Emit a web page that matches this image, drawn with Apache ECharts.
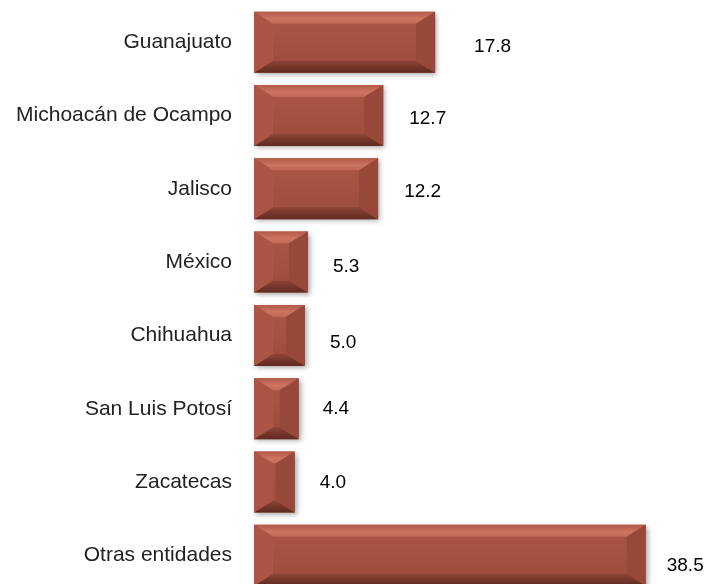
<!DOCTYPE html>
<html>
<head>
<meta charset="utf-8">
<script src="https://cdn.jsdelivr.net/npm/echarts@6/dist/echarts.min.js"></script>
<style>
  html, body { margin: 0; padding: 0; background: #fff; overflow: hidden; }
  #chart { width: 709px; height: 592px; }
</style>
</head>
<body>
<div id="chart"></div>
<script>
const categories = ["Guanajuato", "Michoacán de Ocampo", "Jalisco", "México", "Chihuahua", "San Luis Potosí", "Zacatecas", "Otras entidades"];
const values = [17.8, 12.7, 12.2, 5.3, 5.0, 4.4, 4.0, 38.5];

// small nudges for the value labels, as in the picture
const labelShift = [[14, 5], [1, 3], [1, 3], [0, 5], [0, 7], [-1, 0], [0, 1], [-4, 10]];

const chart = echarts.init(document.getElementById('chart'));

function renderBar(params, api) {
    const idx = api.value(1);
    const val = api.value(0);
    const start = api.coord([0, idx]);
    const end = api.coord([val, idx]);
    const h = 61;
    const x0 = start[0], x1 = end[0];
    const yc = start[1];
    const y0 = yc - h / 2, y1 = yc + h / 2;
    const w = x1 - x0;
    const bx = Math.min(19, w / 2);
    const by = 12;
    const shift = labelShift[params.dataIndex];
    return {
        type: 'group',
        children: [
            {
                type: 'rect',
                shape: { x: x0, y: y0, width: w, height: h },
                style: { fill: '#a3503f', shadowBlur: 5, shadowColor: 'rgba(0,0,0,0.35)', shadowOffsetX: 2, shadowOffsetY: 2 }
            },
            {
                type: 'rect',
                shape: { x: x0 + bx, y: y0 + by, width: Math.max(0, w - 2 * bx), height: h - 2 * by },
                style: {
                    fill: new echarts.graphic.LinearGradient(0, 0, 0, 1, [
                        { offset: 0, color: '#a95544' },
                        { offset: 1, color: '#9f4d3d' }
                    ])
                }
            },
            {
                type: 'polygon',
                shape: { points: [[x0, y0], [x1, y0], [x1 - bx, y0 + by], [x0 + bx, y0 + by]] },
                style: {
                    fill: new echarts.graphic.LinearGradient(0, 0, 0, 1, [
                        { offset: 0, color: '#b35a48' },
                        { offset: 0.6, color: '#cc7561' },
                        { offset: 1, color: '#c06855' }
                    ])
                }
            },
            {
                type: 'polygon',
                shape: { points: [[x0, y1], [x1, y1], [x1 - bx, y1 - by], [x0 + bx, y1 - by]] },
                style: {
                    fill: new echarts.graphic.LinearGradient(0, 0, 0, 1, [
                        { offset: 0, color: '#8e4336' },
                        { offset: 1, color: '#5f2a21' }
                    ])
                }
            },
            {
                type: 'polygon',
                shape: { points: [[x0, y0], [x0 + bx, y0 + by], [x0 + bx, y1 - by], [x0, y1]] },
                style: { fill: '#ab5645' }
            },
            {
                type: 'polygon',
                shape: { points: [[x1, y0], [x1 - bx, y0 + by], [x1 - bx, y1 - by], [x1, y1]] },
                style: { fill: '#974839' }
            },
            {
                type: 'text',
                style: {
                    text: val.toFixed(1),
                    x: x1 + 25 + shift[0],
                    y: yc + shift[1],
                    fill: '#000',
                    font: '19px "Liberation Sans", Arial, sans-serif',
                    verticalAlign: 'middle',
                    align: 'left'
                }
            }
        ]
    };
}

chart.setOption({
    animation: false,
    grid: { left: 254, right: 48, top: 5.5, bottom: 0 },
    xAxis: {
        type: 'value',
        min: 0,
        max: 40,
        show: false
    },
    yAxis: {
        type: 'category',
        data: categories,
        inverse: true,
        axisLine: { show: false },
        axisTick: { show: false },
        axisLabel: {
            margin: 22,
            color: '#222',
            fontSize: 21,
            fontFamily: '"Liberation Sans", Arial, sans-serif'
        }
    },
    series: [{
        type: 'custom',
        renderItem: renderBar,
        encode: { x: 0, y: 1 },
        clip: false,
        data: values.map((v, i) => [v, i])
    }]
});
</script>
</body>
</html>
